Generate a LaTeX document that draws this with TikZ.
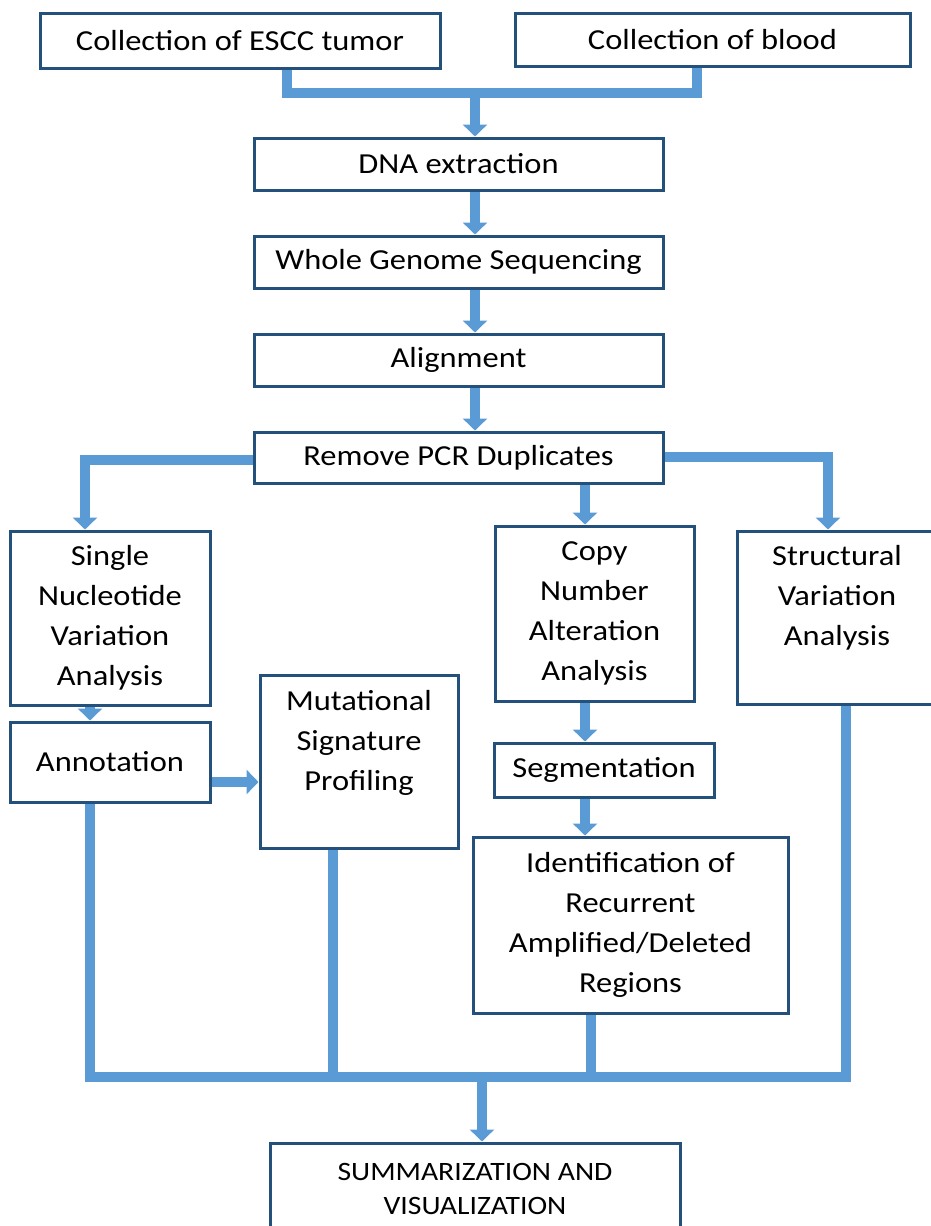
\documentclass[tikz,border=0pt]{standalone}
\usepackage{fontspec}
\setmainfont{Carlito}[FakeStretch=1.12]
\usetikzlibrary{arrows.meta}
\definecolor{boxc}{HTML}{24507C}
\definecolor{flowc}{HTML}{5B9BD5}
\begin{document}
\begin{tikzpicture}[x=1pt,y=-1pt,
  box/.style={draw=boxc, line width=3pt, fill=white, inner sep=0pt, align=center, font=\fontsize{29pt}{40pt}\selectfont},
  txt/.style={inner sep=0pt, align=center, font=\fontsize{29pt}{40pt}\selectfont},
  link/.style={draw=flowc, line width=10.5pt, line join=miter},
  arr/.style={link, -{Triangle[width=24pt,length=12pt]}},
]
\useasboundingbox (0,0) rectangle (930,1226);
\fill[white] (0,0) rectangle (930,1226);

% boxes
\node[box, minimum width=400pt, minimum height=55pt] (tumor) at (240,40.5) {Collection of ESCC tumor};
\node[box, minimum width=395pt, minimum height=53pt] (blood) at (712.5,39.5) {Collection of blood};
\node[box, minimum width=409pt, minimum height=52pt] (dna) at (458.5,164) {DNA extraction};
\node[box, minimum width=409pt, minimum height=52pt] (wgs) at (458.5,262) {Whole Genome Sequencing};
\node[box, minimum width=409pt, minimum height=52pt] (aln) at (458.5,360) {Alignment};
\node[box, minimum width=409pt, minimum height=51pt] (rmdup) at (458.5,457.5) {Remove PCR Duplicates};
\node[box, minimum width=200pt, minimum height=174pt] (snv) at (110,618) {Single\\Nucleotide\\Variation\\Analysis};
\node[box, minimum width=199pt, minimum height=175pt] (cna) at (594.5,613.5) {Copy\\Number\\Alteration\\Analysis};
\node[box, minimum width=200pt, minimum height=173pt] (sv) at (837,617.5) {};
\node[txt, anchor=north] (svt) at (837,545) {Structural\\Variation\\Analysis};
\node[box, minimum width=198pt, minimum height=173pt] (msp) at (359,761.5) {};
\node[txt, anchor=north] (mspt) at (359,690) {Mutational\\Signature\\Profiling};
\node[box, minimum width=200pt, minimum height=80pt] (annot) at (110,762) {Annotation};
\node[box, minimum width=220pt, minimum height=54pt] (seg) at (604,770) {Segmentation};
\node[box, minimum width=315pt, minimum height=176pt] (ident) at (630.5,925) {Identification of\\Recurrent\\Amplified/Deleted\\Regions};
\node[box, minimum width=410pt, minimum height=92pt, font=\fontsize{26.5pt}{34pt}\selectfont] (summ) at (475,1189) {SUMMARIZATION AND\\VISUALIZATION};

% connectors
\coordinate (bus1) at (475,93);
\draw[link] ([xshift=47pt]tumor.south) |- (bus1) -| ([xshift=-15.5pt]blood.south);
\draw[arr] (bus1) -- (bus1 |- dna.north);
\draw[arr] (dna.south -| bus1) -- (wgs.north -| bus1);
\draw[arr] (wgs.south -| bus1) -- (aln.north -| bus1);
\draw[arr] (aln.south -| bus1) -- (rmdup.north -| bus1);

\draw[arr] ([yshift=-2.5pt]rmdup.west) -| ([xshift=-25pt]snv.north);
\draw[arr] ([yshift=0.5pt]rmdup.east) -| ([xshift=-9pt]sv.north);
\coordinate (cnx) at (585,0);
\draw[arr] (rmdup.south -| cnx) -- (cna.north -| cnx);
\draw[arr] (cna.south -| cnx) -- (seg.north -| cnx);
\draw[arr] (seg.south -| cnx) -- (ident.north -| cnx);

\draw[arr] ([xshift=-20pt]snv.south) -- ([xshift=-20pt]annot.north);
\draw[arr] ([yshift=-20pt]annot.east) -- ([yshift=-20pt]annot.east -| msp.west);

\coordinate (bus2) at (482,1077);
\draw[link] ([xshift=-20pt]annot.south) |- (bus2) -| ([xshift=9pt]sv.south);
\draw[link] ([xshift=-26pt]msp.south) -- ([xshift=-26pt]msp.south |- bus2);
\draw[link] ([xshift=-39.5pt]ident.south) -- ([xshift=-39.5pt]ident.south |- bus2);
\draw[arr] (bus2) -- (bus2 |- summ.north);
\end{tikzpicture}
\end{document}
